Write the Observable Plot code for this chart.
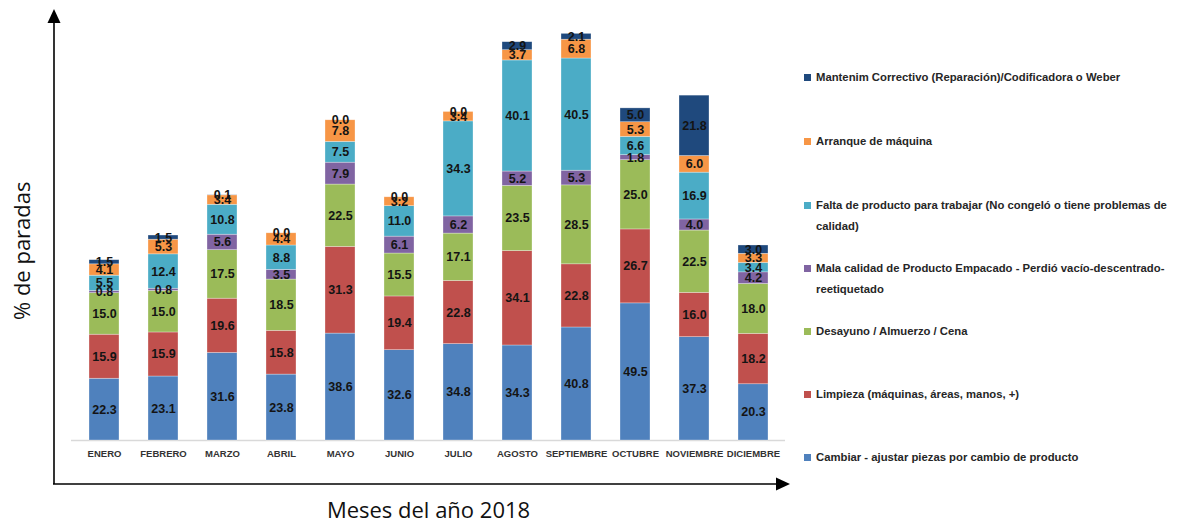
<!DOCTYPE html>
<html><head><meta charset="utf-8">
<script src="https://cdn.jsdelivr.net/npm/d3@7"></script>
<script src="https://cdn.jsdelivr.net/npm/@observablehq/plot@0.6"></script>
<style>
body{margin:0;background:#fff;}
#wrap{position:relative;width:1182px;height:524px;overflow:hidden;}
.item{position:absolute;left:804px;display:flex;align-items:flex-start;font:bold 11.3px 'Liberation Sans',sans-serif;color:#262626;line-height:21px;white-space:pre;}
.sw{width:7px;height:7px;margin-top:7px;margin-right:5px;flex:none;}
</style>
</head><body>
<div id="wrap"></div>
<script>
const months = ["ENERO","FEBRERO","MARZO","ABRIL","MAYO","JUNIO","JULIO","AGOSTO","SEPTIEMBRE","OCTUBRE","NOVIEMBRE","DICIEMBRE"];
const series = [
  "Cambiar - ajustar piezas por cambio de producto",
  "Limpieza (máquinas, áreas, manos, +)",
  "Desayuno / Almuerzo / Cena",
  "Mala calidad de Producto Empacado - Perdió vacío-descentrado-reetiquetado",
  "Falta de producto para trabajar (No congeló o tiene problemas de calidad)",
  "Arranque de máquina",
  "Mantenim Correctivo (Reparación)/Codificadora o Weber"
];
const legendLabels = [
  "Cambiar - ajustar piezas por cambio de producto",
  "Limpieza (máquinas, áreas, manos, +)",
  "Desayuno / Almuerzo / Cena",
  "Mala calidad de Producto Empacado - Perdió vacío-descentrado-\nreetiquetado",
  "Falta de producto para trabajar (No congeló o tiene problemas de\ncalidad)",
  "Arranque de máquina",
  "Mantenim Correctivo (Reparación)/Codificadora o Weber"
];
const colors = ["#4F81BD","#C0504D","#9BBB59","#8064A2","#4BACC6","#F79646","#1F497D"];
const cambiar   = [22.3, 23.1, 31.6, 23.8, 38.6, 32.6, 34.8, 34.3, 40.8, 49.5, 37.3, 20.3];
const limpieza  = [15.9, 15.9, 19.6, 15.8, 31.3, 19.4, 22.8, 34.1, 22.8, 26.7, 16.0, 18.2];
const desayuno  = [15.0, 15.0, 17.5, 18.5, 22.5, 15.5, 17.1, 23.5, 28.5, 25.0, 22.5, 18.0];
const mala      = [0.8, 0.8, 5.6, 3.5, 7.9, 6.1, 6.2, 5.2, 5.3, 1.8, 4.0, 4.2];
const falta     = [5.5, 12.4, 10.8, 8.8, 7.5, 11.0, 34.3, 40.1, 40.5, 6.6, 16.9, 3.4];
const arranque  = [4.1, 5.3, 3.4, 4.4, 7.8, 3.2, 3.4, 3.7, 6.8, 5.3, 6.0, 3.3];
const mantenim  = [1.5, 1.5, 0.1, 0.0, 0.0, 0.0, 0.0, 2.9, 2.1, 5.0, 21.8, 3.0];
const values = [cambiar, limpieza, desayuno, mala, falta, arranque, mantenim];

const data = months.flatMap((m, i) => values.map((arr, j) => ({month: m, serie: series[j], value: arr[i]})));

const font = "'Liberation Sans',sans-serif";
const chart = Plot.plot({
  width: 1182, height: 524,
  marginLeft: 71, marginRight: 397, marginTop: 24.5, marginBottom: 84,
  style: {fontFamily: font, background: "white", overflow: "visible"},
  x: {domain: months, paddingInner: 0.5, paddingOuter: 0.25, label: null},
  y: {domain: [0, 150], axis: null},
  color: {domain: series, range: colors},
  marks: [
    Plot.ruleY([0], {stroke: "#d9d9d9", strokeWidth: 1.5}),
    Plot.barY(data, {x: "month", y: "value", fill: "serie", stroke: "white", strokeOpacity: 0.5, strokeWidth: 0.6}),
    Plot.text(data, Plot.stackY({x: "month", y: "value", z: "serie", text: d => d.value.toFixed(1), fill: "#141414", fontWeight: "bold", fontSize: 12.5})),
    Plot.axisX({tickSize: 0, tickPadding: 10, fontSize: 9.5, fontWeight: "bold", fill: "#333", label: null}),
    Plot.text(["% de paradas"], {frameAnchor: "left", textAnchor: "middle", lineAnchor: "middle", rotate: -90, dx: -49, dy: 18, fontSize: 22, fontFamily: "'Open Sans', sans-serif", fill: "#111"}),
    Plot.text(["Meses del año 2018"], {frameAnchor: "bottom", textAnchor: "middle", lineAnchor: "middle", dy: 70, fontSize: 22, fontFamily: "'Open Sans', sans-serif", fill: "#111"})
  ]
});

// axis arrows (decoration)
const svg = d3.select(chart);
const g = svg.append("g").attr("fill", "#000").attr("stroke", "#000");
g.append("line").attr("x1", 54).attr("y1", 484).attr("x2", 54).attr("y2", 20).attr("stroke-width", 1.6);
g.append("path").attr("d", "M54,9 L47.5,23 L60.5,23 Z").attr("stroke", "none");
g.append("line").attr("x1", 53).attr("y1", 484).attr("x2", 778).attr("y2", 484).attr("stroke-width", 1.6);
g.append("path").attr("d", "M790,484 L776,477.5 L776,490.5 Z").attr("stroke", "none");

const wrap = document.getElementById("wrap");
wrap.appendChild(chart);

const legendCenters = [457, 394, 331, 268, 205, 141, 77];
series.forEach((s, j) => {
  const div = document.createElement("div");
  div.className = "item";
  div.style.top = (legendCenters[j] - 10.5) + "px";
  const sw = document.createElement("span");
  sw.className = "sw";
  sw.style.background = colors[j];
  const tx = document.createElement("span");
  tx.textContent = legendLabels[j];
  div.appendChild(sw); div.appendChild(tx);
  wrap.appendChild(div);
});
</script>
</body></html>
